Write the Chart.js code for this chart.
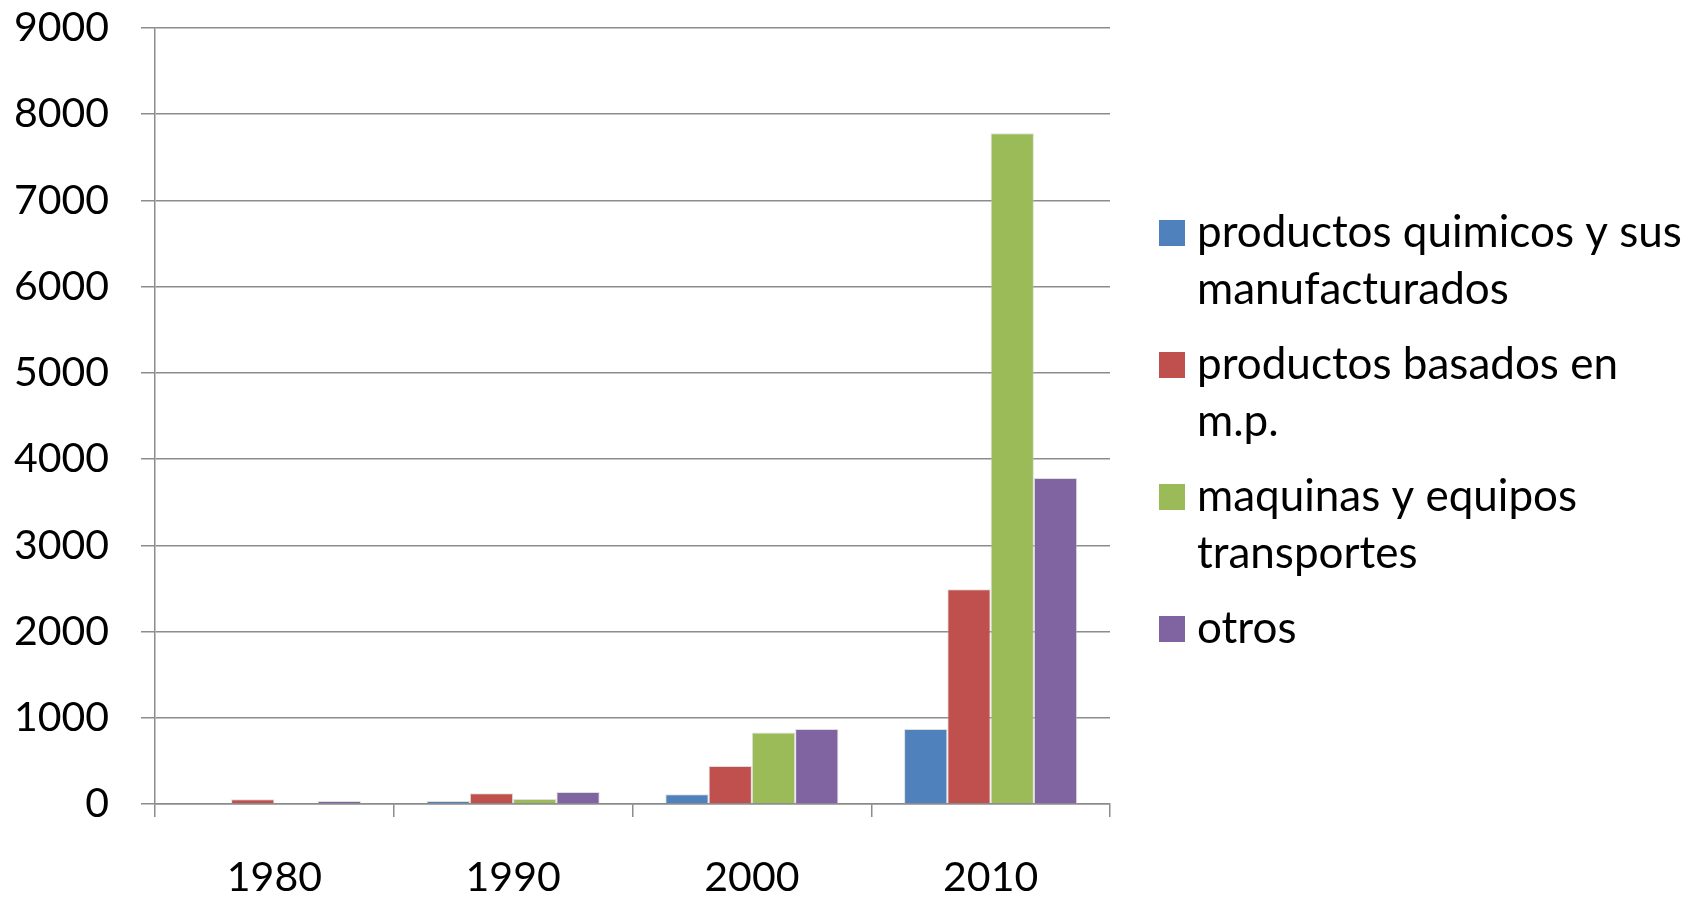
<!DOCTYPE html>
<html>
<head>
<meta charset="utf-8">
<script src="https://cdn.jsdelivr.net/npm/chart.js@4.4.1/dist/chart.umd.min.js"></script>
<style>
  html, body { margin: 0; padding: 0; background: #ffffff; }
  #wrap { width: 1704px; height: 899px; position: relative; }
</style>
</head>
<body>
<div id="wrap"><canvas id="c"></canvas></div>
<script>
const categories = ["1980", "1990", "2000", "2010"];
const quimicos = [0, 35, 113, 870];
const basados = [55, 125, 440, 2490];
const maquinas = [0, 58, 828, 7780];
const otros = [35, 140, 871, 3780];
const seriesNames = [
  ["productos quimicos y sus", "manufacturados"],
  ["productos basados en", "m.p."],
  ["maquinas y equipos", "transportes"],
  ["otros"]
];
const seriesColors = ["#4F81BD", "#C0504D", "#9BBB59", "#8064A2"];
const yTicks = [0, 1000, 2000, 3000, 4000, 5000, 6000, 7000, 8000, 9000];

const FONT = "Lato";

const legendPlugin = {
  id: "customLegend",
  afterDraw(chart) {
    const ctx = chart.ctx;
    ctx.save();
    ctx.font = "44px " + FONT;
    ctx.textBaseline = "middle";
    ctx.textAlign = "left";
    let y = 233;
    const lineH = 57, gap = 18;
    chart.data.datasets.forEach((ds, i) => {
      const lines = seriesNames[i];
      ctx.fillStyle = ds.backgroundColor;
      ctx.fillRect(1159, y - 13, 26, 26);
      ctx.fillStyle = "#000000";
      lines.forEach((ln, j) => ctx.fillText(ln, 1197, y + j * lineH));
      y += lines.length * lineH + gap;
    });
    ctx.restore();
  }
};

const allSeries = [quimicos, basados, maquinas, otros];
new Chart(document.getElementById("c"), {
  type: "bar",
  data: {
    labels: categories,
    datasets: allSeries.map((d, i) => ({
      label: seriesNames[i].join(" "),
      data: d,
      backgroundColor: seriesColors[i],
      borderColor: "rgba(200,200,200,0.6)",
      borderWidth: 1,
      barPercentage: 1.0,
      categoryPercentage: 0.725
    }))
  },
  options: {
    responsive: true,
    maintainAspectRatio: false,
    animation: false,
    layout: { padding: { top: 28, right: 594, left: 0, bottom: 0 } },
    plugins: {
      legend: { display: false },
      tooltip: { enabled: false }
    },
    scales: {
      x: {
        offset: true,
        grid: {
          offset: true,
          drawOnChartArea: false,
          drawTicks: true,
          tickLength: 13,
          color: "#8c8c8c",
          lineWidth: 1.5
        },
        border: { color: "#8c8c8c", width: 1.5 },
        ticks: {
          color: "#000000",
          font: { family: FONT, size: 41 },
          padding: 36,
          maxRotation: 0
        },
        afterFit(scale) { scale.height = 95; scale.paddingTop = 0; scale.paddingBottom = 0; }
      },
      y: {
        min: 0,
        max: 9000,
        afterBuildTicks(scale) { scale.ticks = yTicks.map(v => ({ value: v })); },
        grid: {
          color: "#8c8c8c",
          lineWidth: 1.5,
          drawTicks: true,
          tickLength: 14
        },
        border: { color: "#8c8c8c", width: 1.5 },
        ticks: {
          color: "#000000",
          font: { family: FONT, size: 41 },
          padding: 32,
          callback: (v) => String(v)
        },
        afterFit(scale) { scale.width = 155; scale.paddingTop = 0; scale.paddingBottom = 0; }
      }
    }
  },
  plugins: [legendPlugin]
});
</script>
</body>
</html>
